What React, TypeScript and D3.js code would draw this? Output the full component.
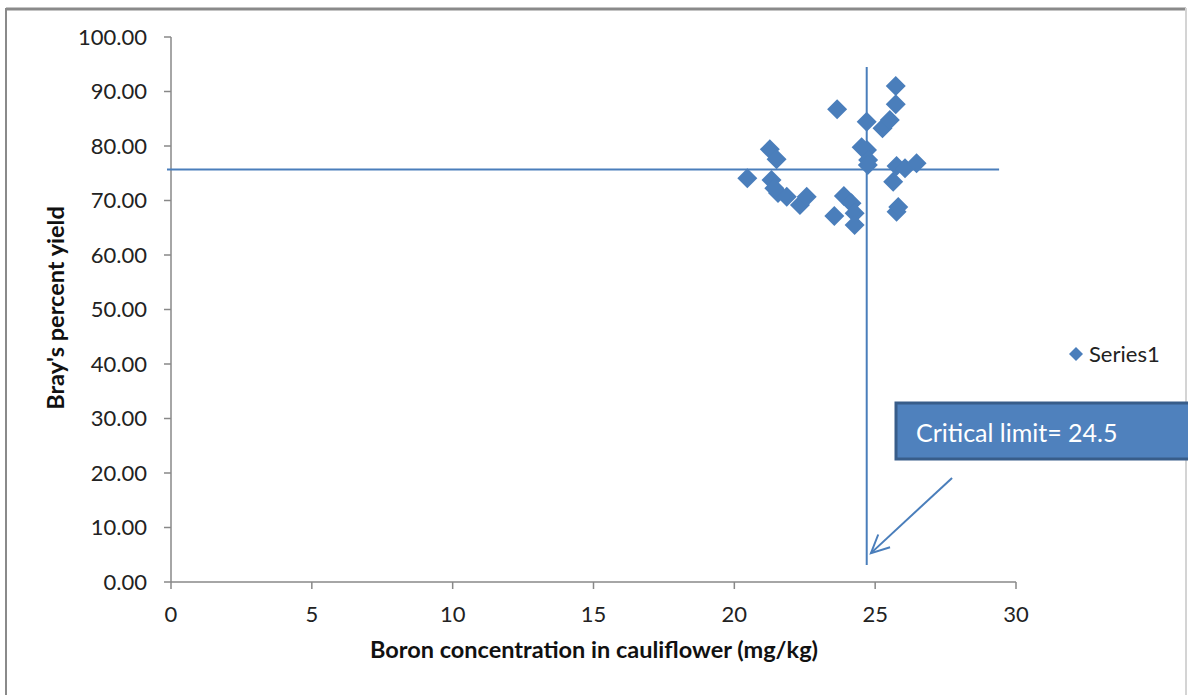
import React from "react";
import * as d3 from "d3";

// Boron concentration (mg/kg) vs Bray's percent yield
const boron = [20.46, 21.26, 21.5, 21.32, 21.42, 21.55, 21.86, 22.33, 22.57, 23.65, 23.55, 23.89, 24.16, 24.27, 24.27, 24.7, 24.52, 24.71, 24.75, 24.74, 25.26, 25.52, 25.73, 25.73, 25.64, 25.76, 26.06, 26.47, 25.76, 25.82];
const yieldPct = [74.07, 79.39, 77.56, 73.76, 72.24, 71.38, 70.7, 69.17, 70.7, 86.73, 67.16, 70.83, 69.49, 67.65, 65.5, 84.46, 79.76, 79.27, 77.43, 76.51, 83.25, 84.77, 91.01, 87.65, 73.45, 76.33, 75.91, 76.83, 67.94, 68.81];
const xTicks = [0, 5, 10, 15, 20, 25, 30];
const yTicks = [0, 10, 20, 30, 40, 50, 60, 70, 80, 90, 100];
const seriesName = "Series1";
const xTitle = "Boron concentration in cauliflower (mg/kg)";
const yTitle = "Bray's percent yield";
const criticalX = 24.7;
const criticalY = 75.7;
const calloutText = "Critical limit= 24.5";

const W = 1188;
const H = 695;
const FONT = "Lato, 'Open Sans', sans-serif";
const BLUE = "#4A7EBB";

export default function App() {
  const x = d3.scaleLinear().domain([0, 30]).range([171, 1016]);
  const y = d3.scaleLinear().domain([0, 100]).range([582, 37]);
  const diamondPath = (r: number) => `M0,${-r}L${r},0L0,${r}L${-r},0Z`;
  const pts = boron.map((b, i) => ({ b, v: yieldPct[i] }));

  // arrow annotation in data coords
  const arrowFrom = { b: 27.73, v: 19.1 };
  const arrowTo = { b: 24.85, v: 5.3 };
  const ax1 = x(arrowFrom.b), ay1 = y(arrowFrom.v), ax2 = x(arrowTo.b), ay2 = y(arrowTo.v);
  const ang = Math.atan2(ay1 - ay2, ax1 - ax2);
  const headLen = 20;
  const headSpread = 0.45;
  const h1 = [ax2 + headLen * Math.cos(ang - headSpread), ay2 + headLen * Math.sin(ang - headSpread)];
  const h2 = [ax2 + headLen * Math.cos(ang + headSpread), ay2 + headLen * Math.sin(ang + headSpread)];

  return (
    <svg width={W} height={H} style={{ position: "absolute", left: 0, top: 0, background: "#fff" }} fontFamily={FONT}>
      {/* outer chart border */}
      <line x1={6} y1={9} x2={1186} y2={9} stroke="#8a8a8a" strokeWidth={3} />
      <line x1={6} y1={8} x2={6} y2={H} stroke="#8a8a8a" strokeWidth={2} />
      <line x1={1186} y1={8} x2={1186} y2={H} stroke="#d4d4d4" strokeWidth={2} />

      {/* axes */}
      <line x1={x(0)} y1={y(0)} x2={x(0)} y2={y(100)} stroke="#888" strokeWidth={1.5} />
      <line x1={x(0)} y1={y(0)} x2={x(30)} y2={y(0)} stroke="#888" strokeWidth={1.5} />
      {yTicks.map((t) => (
        <g key={"y" + t}>
          <line x1={x(0) - 7} x2={x(0)} y1={y(t)} y2={y(t)} stroke="#888" strokeWidth={1.5} />
          <text x={147} y={y(t)} dy="0.36em" textAnchor="end" fontSize={22} fill="#222">
            {t.toFixed(2)}
          </text>
        </g>
      ))}
      {xTicks.map((t) => (
        <g key={"x" + t}>
          <line x1={x(t)} x2={x(t)} y1={y(0)} y2={y(0) + 7} stroke="#888" strokeWidth={1.5} />
          <text x={x(t)} y={622} textAnchor="middle" fontSize={22} fill="#222">
            {t}
          </text>
        </g>
      ))}

      {/* axis titles */}
      <text x={594} y={658} textAnchor="middle" fontSize={23.5} fontWeight="bold" fill="#111">
        {xTitle}
      </text>
      <text transform={`translate(64,308) rotate(-90)`} textAnchor="middle" fontSize={23.5} fontWeight="bold" fill="#111">
        {yTitle}
      </text>

      {/* reference lines */}
      <line x1={x(0) - 4} x2={x(29.4)} y1={y(criticalY)} y2={y(criticalY)} stroke={BLUE} strokeWidth={2} />
      <line x1={x(criticalX)} x2={x(criticalX)} y1={y(94.5)} y2={y(3.1)} stroke={BLUE} strokeWidth={2} />

      {/* points */}
      {pts.map((p, i) => (
        <path key={i} d={diamondPath(10)} transform={`translate(${x(p.b)},${y(p.v)})`} fill={BLUE} />
      ))}

      {/* legend */}
      <path d={diamondPath(7)} transform="translate(1076,354)" fill={BLUE} />
      <text x={1089} y={362} fontSize={22} fill="#222">{seriesName}</text>

      {/* callout */}
      <rect x={896} y={403} width={300} height={56} fill="#4F81BD" stroke="#385D8A" strokeWidth={3} />
      <text x={916} y={442} fontSize={25} fill="#fff">{calloutText}</text>

      {/* arrow */}
      <line x1={ax1} y1={ay1} x2={ax2} y2={ay2} stroke={BLUE} strokeWidth={2} />
      <polyline points={`${h1[0]},${h1[1]} ${ax2},${ay2} ${h2[0]},${h2[1]}`} fill="none" stroke={BLUE} strokeWidth={2} />
    </svg>
  );
}
